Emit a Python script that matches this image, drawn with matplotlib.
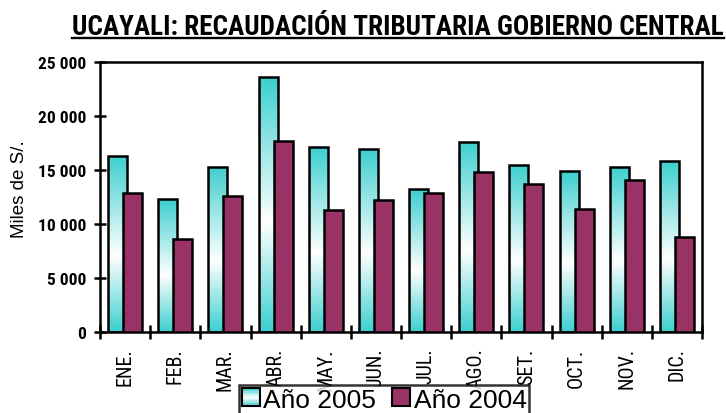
import numpy as np
import matplotlib
matplotlib.use("Agg")
import matplotlib.pyplot as plt
from matplotlib import font_manager
from matplotlib.colors import LinearSegmentedColormap
from matplotlib.patches import Rectangle
from matplotlib.legend_handler import HandlerBase
from matplotlib.lines import Line2D

meses = ["ENE.", "FEB.", "MAR.", "ABR.", "MAY.", "JUN.",
         "JUL.", "AGO.", "SET.", "OCT.", "NOV.", "DIC."]
anio_2005 = [16300, 12300, 15300, 23600, 17100, 16900,
             13200, 17600, 15500, 14900, 15300, 15800]
anio_2004 = [12900, 8600, 12600, 17700, 11300, 12200,
             12900, 14800, 13700, 11400, 14100, 8800]
y_ticks = [0, 5000, 10000, 15000, 20000, 25000]
y_labels = ["0", "5 000", "10 000", "15 000", "20 000", "25 000"]

teal = "#3ccfcf"
plum = "#993366"


def pick(names):
    for n in names:
        try:
            font_manager.findfont(n, fallback_to_default=False)
            return n
        except ValueError:
            pass
    return "DejaVu Sans"


narrow = pick(["Liberation Sans Narrow", "Roboto Condensed", "DejaVu Sans"])
regular = pick(["Liberation Sans", "Arial", "DejaVu Sans"])

fig = plt.figure(figsize=(7.26, 4.14), dpi=100)
ax = fig.add_axes([100 / 726, 1 - 333 / 414, 602 / 726, 270 / 414])

x = np.arange(len(meses))
w = 0.38
off = 0.15

cmap = LinearSegmentedColormap.from_list("tw", [(0, teal), (0.43, "white"), (1, teal)])
grad = np.linspace(0, 1, 256).reshape(-1, 1)

bars05 = ax.bar(x - off, anio_2005, w, facecolor="none", edgecolor="black",
                linewidth=1.8, zorder=3)
for b in bars05:
    x0, h = b.get_x(), b.get_height()
    im = ax.imshow(grad, cmap=cmap, extent=[x0, x0 + w, 0, h], aspect="auto",
                   origin="lower", zorder=2)
    im.set_clip_path(b)
ax.bar(x + off, anio_2004, w, color=plum, edgecolor="black", linewidth=1.8, zorder=4)

ax.set_xlim(-0.5, len(meses) - 0.5)
ax.set_ylim(0, 25000)

# ticks
ax.set_xticks(np.arange(len(meses) + 1) - 0.5)
ax.set_xticklabels([])
ax.set_xticks(x, minor=True)
ax.set_xticklabels(meses, minor=True, rotation=90, fontsize=14.5, family=narrow)
ax.tick_params(axis="x", which="major", direction="inout", length=10, width=1.8)
ax.tick_params(axis="x", which="minor", length=0, pad=11)
ax.set_yticks(y_ticks)
ax.set_yticklabels(y_labels, fontsize=12.5, family=narrow, fontweight="bold")
ax.tick_params(axis="y", direction="inout", length=8.5, width=1.8, pad=5.5)
for s in ax.spines.values():
    s.set_linewidth(1.8)

ax.set_ylabel("Miles de S/.", fontsize=13.5, family=regular)
ax.yaxis.set_label_coords(-0.12, 0.533)


# legend with gradient square
class GradHandler(HandlerBase):
    def create_artists(self, legend, orig, xd, yd, width, height, fontsize, trans):
        arts = []
        n = 12
        for i in range(n):
            c = cmap(abs(i + 0.5 - n / 2) / (n / 2) * 0.57 + 0.43)
            arts.append(Rectangle((-xd, -yd + height * i / n), width, height / n,
                                  facecolor=c, edgecolor="none", transform=trans))
        arts.append(Rectangle((-xd, -yd), width, height, facecolor="none",
                              edgecolor="black", linewidth=1.5, transform=trans))
        return arts


class GradKey:
    pass


key05 = GradKey()
key04 = Rectangle((0, 0), 1, 1, facecolor=plum, edgecolor="black", linewidth=1.5)
leg = fig.legend([key05, key04], ["Año 2005", "Año 2004"], loc="upper center",
                 bbox_to_anchor=(384 / 726, 1 - 386 / 414), ncol=2,
                 handler_map={GradKey: GradHandler()},
                 prop={"family": regular, "size": 19}, frameon=True, fancybox=False,
                 edgecolor="black", handlelength=0.7, handleheight=0.68,
                 handletextpad=0.12, columnspacing=0.6, borderpad=0.1,
                 borderaxespad=0)
leg.get_frame().set_linewidth(1.8)

# title, underlined
title = fig.text(398 / 726, 1 - 35 / 414,
                 "UCAYALI: RECAUDACIÓN TRIBUTARIA GOBIERNO CENTRAL",
                 ha="center", va="baseline", fontsize=19.5, family=narrow,
                 fontweight="bold")
fig.canvas.draw()
bb = title.get_window_extent()
fig.add_artist(Line2D([bb.x0 / 726, bb.x1 / 726], [1 - 39 / 414, 1 - 39 / 414],
                      color="black", linewidth=1.7, transform=fig.transFigure))

fig.savefig("out.png", dpi=100)
